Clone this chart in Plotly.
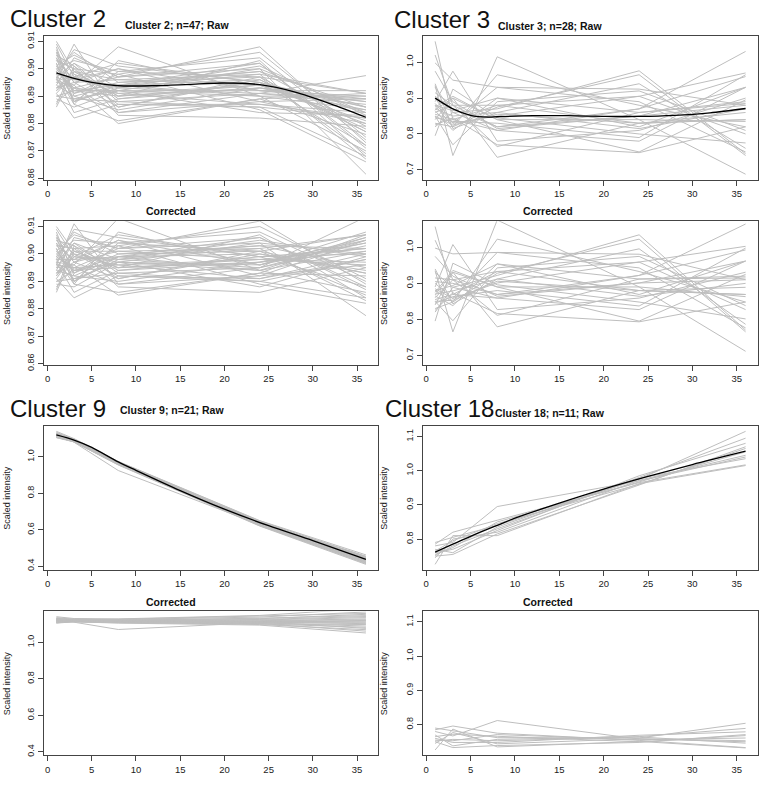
import plotly.graph_objects as go

# ---------------- data ----------------
TIME = [1, 3, 8, 24, 36]
XTICKS = [0, 5, 10, 15, 20, 25, 30, 35]

C2_RAW = [
    [0.909, 0.897, 0.893, 0.898, 0.891], [0.905, 0.901, 0.889, 0.895, 0.884],
    [0.902, 0.888, 0.894, 0.902, 0.872], [0.896, 0.909, 0.884, 0.891, 0.889],
    [0.893, 0.895, 0.900, 0.888, 0.880], [0.899, 0.892, 0.890, 0.903, 0.868],
    [0.886, 0.899, 0.896, 0.894, 0.886], [0.904, 0.887, 0.881, 0.889, 0.876],
    [0.900, 0.903, 0.899, 0.897, 0.891], [0.891, 0.882, 0.887, 0.886, 0.882],
    [0.897, 0.894, 0.908, 0.890, 0.870], [0.906, 0.898, 0.892, 0.900, 0.8615],
    [0.894, 0.890, 0.885, 0.893, 0.888], [0.901, 0.905, 0.897, 0.908, 0.873],
    [0.888, 0.893, 0.891, 0.887, 0.884], [0.903, 0.896, 0.894, 0.899, 0.879],
    [0.898, 0.887, 0.903, 0.892, 0.892], [0.892, 0.900, 0.886, 0.896, 0.877],
    [0.907, 0.891, 0.898, 0.885, 0.866], [0.895, 0.902, 0.893, 0.901, 0.883],
    [0.890, 0.889, 0.888, 0.891, 0.8975], [0.899, 0.906, 0.895, 0.897, 0.869],
    [0.910, 0.899, 0.890, 0.894, 0.881], [0.896, 0.893, 0.884, 0.888, 0.889],
    [0.902, 0.888, 0.899, 0.904, 0.874], [0.893, 0.897, 0.902, 0.895, 0.886],
    [0.887, 0.901, 0.883, 0.882, 0.879], [0.905, 0.895, 0.896, 0.898, 0.867],
    [0.897, 0.884, 0.889, 0.893, 0.885], [0.900, 0.892, 0.892, 0.890, 0.890],
    [0.894, 0.904, 0.897, 0.902, 0.871], [0.891, 0.898, 0.887, 0.887, 0.882],
    [0.908, 0.890, 0.894, 0.896, 0.878], [0.898, 0.896, 0.900, 0.892, 0.888],
    [0.889, 0.886, 0.892, 0.884, 0.883], [0.903, 0.900, 0.898, 0.906, 0.875],
    [0.895, 0.894, 0.880, 0.889, 0.891], [0.901, 0.891, 0.895, 0.899, 0.886],
    [0.892, 0.897, 0.891, 0.894, 0.880], [0.906, 0.888, 0.893, 0.891, 0.887],
    [0.897, 0.902, 0.888, 0.886, 0.868], [0.899, 0.893, 0.897, 0.900, 0.884],
    [0.893, 0.899, 0.890, 0.893, 0.889], [0.904, 0.895, 0.886, 0.897, 0.877],
    [0.890, 0.892, 0.894, 0.890, 0.885], [0.898, 0.907, 0.901, 0.895, 0.872],
    [0.896, 0.889, 0.892, 0.892, 0.890],
]
C2_COR = [
    [0.909, 0.899, 0.898, 0.902, 0.907], [0.905, 0.903, 0.894, 0.899, 0.900],
    [0.902, 0.890, 0.899, 0.906, 0.888], [0.896, 0.911, 0.889, 0.895, 0.905],
    [0.893, 0.897, 0.905, 0.892, 0.896], [0.899, 0.894, 0.895, 0.907, 0.884],
    [0.886, 0.901, 0.901, 0.898, 0.902], [0.904, 0.889, 0.886, 0.893, 0.892],
    [0.900, 0.905, 0.904, 0.901, 0.907], [0.891, 0.884, 0.892, 0.890, 0.898],
    [0.897, 0.896, 0.913, 0.894, 0.886], [0.906, 0.900, 0.897, 0.904, 0.8775],
    [0.894, 0.892, 0.890, 0.897, 0.904], [0.901, 0.907, 0.902, 0.912, 0.889],
    [0.888, 0.895, 0.896, 0.891, 0.900], [0.903, 0.898, 0.899, 0.903, 0.895],
    [0.898, 0.889, 0.908, 0.896, 0.908], [0.892, 0.902, 0.891, 0.900, 0.893],
    [0.907, 0.893, 0.903, 0.889, 0.882], [0.895, 0.904, 0.898, 0.905, 0.899],
    [0.890, 0.891, 0.893, 0.895, 0.9135], [0.899, 0.908, 0.900, 0.901, 0.885],
    [0.910, 0.901, 0.895, 0.898, 0.897], [0.896, 0.895, 0.889, 0.892, 0.905],
    [0.902, 0.890, 0.904, 0.908, 0.890], [0.893, 0.899, 0.907, 0.899, 0.902],
    [0.887, 0.903, 0.888, 0.886, 0.895], [0.905, 0.897, 0.901, 0.902, 0.883],
    [0.897, 0.886, 0.894, 0.897, 0.901], [0.900, 0.894, 0.897, 0.894, 0.906],
    [0.894, 0.906, 0.902, 0.906, 0.887], [0.891, 0.900, 0.892, 0.891, 0.898],
    [0.908, 0.892, 0.899, 0.900, 0.894], [0.898, 0.898, 0.905, 0.896, 0.904],
    [0.889, 0.888, 0.897, 0.888, 0.899], [0.903, 0.902, 0.903, 0.910, 0.891],
    [0.895, 0.896, 0.885, 0.893, 0.907], [0.901, 0.893, 0.900, 0.903, 0.902],
    [0.892, 0.899, 0.896, 0.898, 0.896], [0.906, 0.890, 0.898, 0.895, 0.903],
    [0.897, 0.904, 0.893, 0.890, 0.884], [0.899, 0.895, 0.902, 0.904, 0.900],
    [0.893, 0.901, 0.895, 0.897, 0.905], [0.904, 0.897, 0.891, 0.901, 0.893],
    [0.890, 0.894, 0.899, 0.894, 0.901], [0.898, 0.909, 0.906, 0.899, 0.888],
    [0.896, 0.891, 0.897, 0.896, 0.906],
]
C2_TREND_X = [1, 3, 5, 8, 12, 16, 20, 24, 28, 32, 36]
C2_TREND_Y = [0.8985, 0.8965, 0.8950, 0.8938, 0.8938, 0.8943, 0.8948, 0.8942, 0.8915, 0.8872, 0.8823]

C3_RAW = [
    [1.058, 0.840, 0.880, 0.830, 0.860], [1.020, 0.880, 0.820, 0.870, 0.960],
    [0.998, 0.950, 0.930, 0.925, 0.880], [0.975, 0.890, 0.815, 0.850, 0.930],
    [0.935, 0.740, 1.015, 0.840, 0.835], [0.930, 0.860, 0.870, 0.976, 0.745],
    [0.900, 0.830, 0.850, 0.905, 0.970], [0.890, 0.975, 0.780, 0.810, 0.900],
    [0.880, 0.820, 0.965, 0.880, 0.820], [0.875, 0.905, 0.840, 0.750, 0.895],
    [0.870, 0.850, 0.860, 0.940, 0.760], [0.865, 0.810, 0.900, 0.820, 0.930],
    [0.860, 0.880, 0.765, 0.860, 0.885], [0.850, 0.770, 0.890, 0.920, 0.810],
    [0.845, 0.835, 0.830, 0.790, 0.965], [0.840, 0.900, 0.735, 0.830, 0.840],
    [0.830, 0.820, 0.875, 0.965, 0.740], [0.820, 0.860, 0.810, 0.870, 1.030],
    [0.795, 0.925, 0.845, 0.800, 0.775], [0.905, 0.870, 0.820, 0.850, 0.880],
    [0.885, 0.830, 0.930, 0.890, 0.750], [0.940, 0.815, 0.860, 0.815, 0.870],
    [0.825, 0.845, 0.770, 0.748, 0.820], [0.915, 0.880, 0.880, 0.905, 0.800],
    [0.868, 0.900, 0.840, 0.840, 0.688], [0.855, 0.840, 0.810, 0.780, 0.930],
    [0.880, 0.865, 0.900, 0.860, 0.890], [0.850, 0.825, 0.855, 0.830, 0.840],
]
C3_COR = [
    [1.058, 0.869, 0.933, 0.880, 0.889], [1.020, 0.910, 0.869, 0.922, 0.993],
    [0.998, 0.982, 0.986, 0.981, 0.910], [0.975, 0.920, 0.864, 0.901, 0.962],
    [0.935, 0.765, 1.076, 0.890, 0.863], [0.930, 0.889, 0.922, 1.035, 0.770],
    [0.900, 0.858, 0.901, 0.959, 1.003], [0.890, 1.008, 0.827, 0.859, 0.931],
    [0.880, 0.848, 1.023, 0.933, 0.848], [0.875, 0.936, 0.890, 0.795, 0.925],
    [0.870, 0.879, 0.912, 0.996, 0.786], [0.865, 0.838, 0.954, 0.869, 0.962],
    [0.860, 0.910, 0.811, 0.912, 0.915], [0.850, 0.796, 0.943, 0.975, 0.838],
    [0.845, 0.863, 0.880, 0.837, 0.998], [0.840, 0.931, 0.779, 0.880, 0.869],
    [0.830, 0.848, 0.928, 1.023, 0.765], [0.820, 0.889, 0.859, 0.922, 1.065],
    [0.795, 0.956, 0.896, 0.848, 0.801], [0.905, 0.900, 0.869, 0.901, 0.910],
    [0.885, 0.858, 0.986, 0.943, 0.776], [0.940, 0.843, 0.912, 0.864, 0.900],
    [0.825, 0.874, 0.816, 0.793, 0.848], [0.915, 0.910, 0.933, 0.959, 0.827],
    [0.868, 0.931, 0.890, 0.890, 0.711], [0.855, 0.869, 0.859, 0.827, 0.962],
    [0.880, 0.894, 0.954, 0.912, 0.920], [0.850, 0.853, 0.906, 0.880, 0.869],
]
C3_TREND_X = [1, 3, 5, 7, 8, 12, 16, 20, 24, 28, 32, 36]
C3_TREND_Y = [0.900, 0.870, 0.852, 0.847, 0.848, 0.851, 0.851, 0.849, 0.849, 0.852, 0.859, 0.871]

C9_RAW = [
    [1.140, 1.100, 0.975, 0.650, 0.462], [1.135, 1.095, 0.972, 0.645, 0.455],
    [1.130, 1.098, 0.970, 0.640, 0.450], [1.128, 1.092, 0.968, 0.642, 0.447],
    [1.125, 1.090, 0.966, 0.638, 0.445], [1.122, 1.093, 0.970, 0.636, 0.443],
    [1.120, 1.088, 0.964, 0.634, 0.440], [1.118, 1.090, 0.967, 0.633, 0.438],
    [1.116, 1.086, 0.962, 0.630, 0.436], [1.114, 1.089, 0.965, 0.632, 0.434],
    [1.112, 1.084, 0.960, 0.628, 0.432], [1.110, 1.087, 0.963, 0.629, 0.430],
    [1.108, 1.083, 0.958, 0.626, 0.428], [1.106, 1.085, 0.961, 0.627, 0.425],
    [1.105, 1.082, 0.957, 0.624, 0.422], [1.124, 1.091, 0.969, 0.631, 0.420],
    [1.119, 1.085, 0.959, 0.622, 0.417], [1.113, 1.088, 0.962, 0.625, 0.414],
    [1.130, 1.080, 0.925, 0.628, 0.437], [1.109, 1.082, 0.955, 0.620, 0.410],
    [1.126, 1.094, 0.973, 0.648, 0.452],
]
C9_COR = [
    [1.140, 1.130, 1.128, 1.147, 1.184], [1.135, 1.125, 1.125, 1.138, 1.166],
    [1.130, 1.128, 1.122, 1.129, 1.153], [1.128, 1.122, 1.120, 1.132, 1.146],
    [1.125, 1.120, 1.118, 1.125, 1.141], [1.122, 1.123, 1.122, 1.122, 1.135],
    [1.120, 1.118, 1.115, 1.118, 1.128], [1.118, 1.120, 1.119, 1.117, 1.123],
    [1.116, 1.116, 1.113, 1.111, 1.117], [1.114, 1.119, 1.117, 1.115, 1.112],
    [1.112, 1.114, 1.111, 1.108, 1.107], [1.110, 1.117, 1.114, 1.110, 1.102],
    [1.108, 1.113, 1.108, 1.104, 1.097], [1.106, 1.115, 1.112, 1.106, 1.089],
    [1.105, 1.112, 1.107, 1.101, 1.082], [1.124, 1.121, 1.121, 1.113, 1.076],
    [1.119, 1.115, 1.110, 1.097, 1.069], [1.113, 1.118, 1.113, 1.103, 1.061],
    [1.130, 1.110, 1.070, 1.108, 1.120], [1.109, 1.112, 1.105, 1.094, 1.051],
    [1.126, 1.124, 1.126, 1.143, 1.158],
]
C9_TREND_X = [1, 3, 5, 8, 10, 15, 20, 25, 30, 36]
C9_TREND_Y = [1.120, 1.092, 1.052, 0.972, 0.926, 0.815, 0.713, 0.622, 0.540, 0.437]

C18_RAW = [
    [0.790, 0.805, 0.840, 0.975, 1.115], [0.785, 0.820, 0.855, 0.965, 1.017],
    [0.780, 0.790, 0.895, 0.970, 1.040], [0.770, 0.760, 0.835, 0.980, 1.095],
    [0.765, 0.795, 0.845, 0.960, 1.065], [0.760, 0.770, 0.825, 0.985, 1.080],
    [0.755, 0.775, 0.850, 0.968, 1.055], [0.752, 0.780, 0.830, 0.978, 1.035],
    [0.750, 0.755, 0.815, 0.958, 1.070], [0.745, 0.800, 0.820, 0.972, 1.045],
    [0.726, 0.810, 0.810, 0.962, 1.015],
]
C18_COR = [
    [0.790, 0.782, 0.762, 0.761, 0.804], [0.785, 0.796, 0.775, 0.754, 0.733],
    [0.780, 0.767, 0.812, 0.758, 0.750], [0.770, 0.738, 0.757, 0.765, 0.789],
    [0.765, 0.772, 0.766, 0.750, 0.768], [0.760, 0.748, 0.748, 0.769, 0.779],
    [0.755, 0.753, 0.771, 0.756, 0.761], [0.752, 0.757, 0.753, 0.764, 0.746],
    [0.750, 0.733, 0.739, 0.748, 0.771], [0.745, 0.777, 0.744, 0.759, 0.753],
    [0.726, 0.787, 0.735, 0.751, 0.732],
]
C18_TREND_X = [1, 3, 5, 8, 10, 15, 20, 25, 30, 36]
C18_TREND_Y = [0.762, 0.785, 0.808, 0.840, 0.861, 0.905, 0.946, 0.983, 1.018, 1.057]

C2_YTICKS = [0.86, 0.87, 0.88, 0.89, 0.90, 0.91]
C2_YLABELS = ["0.86", "0.87", "0.88", "0.89", "0.90", "0.91"]
C3_YTICKS = [0.7, 0.8, 0.9, 1.0]
C3_YLABELS = ["0.7", "0.8", "0.9", "1.0"]
C9_YTICKS = [0.4, 0.6, 0.8, 1.0]
C9_YLABELS = ["0.4", "0.6", "0.8", "1.0"]
C18_YTICKS = [0.8, 0.9, 1.0, 1.1]
C18_YLABELS = ["0.8", "0.9", "1.0", "1.1"]

# ---------------- layout helpers ----------------
W, H = 760, 785
FONT = "Liberation Sans, Arial, Helvetica, sans-serif"
GREY = "#bebebe"
AXC = "#444444"


def fx(px):
    return px / W


def fy(px):
    return 1 - px / H


COLS = [(44.0, 378.3), (422.7, 758.0)]
ROWS = [(31.5, 177.0), (219.3, 365.0), (427.0, 572.7), (615.0, 761.0)]

clusters = [
    dict(label="Cluster 2", title="Cluster 2; n=47; Raw", raw=C2_RAW, cor=C2_COR,
         tx=C2_TREND_X, ty=C2_TREND_Y, yr=[0.85956, 0.91194], yt=C2_YTICKS, yl=C2_YLABELS,
         col=0, r=0, big=(8, 13.5), sub=(123, 20.7)),
    dict(label="Cluster 3", title="Cluster 3; n=28; Raw", raw=C3_RAW, cor=C3_COR,
         tx=C3_TREND_X, ty=C3_TREND_Y, yr=[0.6732, 1.0728], yt=C3_YTICKS, yl=C3_YLABELS,
         col=1, r=0, big=(391.5, 14.5), sub=(496, 21.5)),
    dict(label="Cluster 9", title="Cluster 9; n=21; Raw", raw=C9_RAW, cor=C9_COR,
         tx=C9_TREND_X, ty=C9_TREND_Y, yr=[0.3808, 1.1692], yt=C9_YTICKS, yl=C9_YLABELS,
         col=0, r=2, big=(8, 409.5), sub=(118, 410.7)),
    dict(label="Cluster 18", title="Cluster 18; n=11; Raw", raw=C18_RAW, cor=C18_COR,
         tx=C18_TREND_X, ty=C18_TREND_Y, yr=[0.7104, 1.1306], yt=C18_YTICKS, yl=C18_YLABELS,
         col=1, r=2, big=(383, 409.5), sub=(493, 414.0)),
]

fig = go.Figure()
layout = {}
annotations = []
k = 0
for c in clusters:
    x0, x1 = COLS[c["col"]]
    for part in ("raw", "cor"):
        k += 1
        xa = "x" if k == 1 else f"x{k}"
        ya = "y" if k == 1 else f"y{k}"
        xname = "xaxis" if k == 1 else f"xaxis{k}"
        yname = "yaxis" if k == 1 else f"yaxis{k}"
        top, bot = ROWS[c["r"] + (0 if part == "raw" else 1)]
        for series in c[part]:
            fig.add_trace(go.Scatter(x=TIME, y=series, mode="lines", xaxis=xa, yaxis=ya,
                                     line=dict(color=GREY, width=1), hoverinfo="skip",
                                     showlegend=False))
        if part == "raw":
            fig.add_trace(go.Scatter(x=c["tx"], y=c["ty"], mode="lines", xaxis=xa, yaxis=ya,
                                     line=dict(color="black", width=1.3, shape="spline",
                                               smoothing=0.8),
                                     hoverinfo="skip", showlegend=False))
        layout[xname] = dict(domain=[fx(x0), fx(x1)], anchor=ya, range=[-0.4, 37.4],
                             tickvals=XTICKS, ticks="outside", ticklen=5, tickwidth=1,
                             tickcolor=AXC, showline=True, mirror=True, linecolor=AXC,
                             linewidth=1, showgrid=False, zeroline=False,
                             tickfont=dict(family=FONT, size=9.5, color="#222"))
        layout[yname] = dict(domain=[fy(bot), fy(top)], anchor=xa, range=c["yr"],
                             tickvals=c["yt"], ticktext=c["yl"], tickangle=-90,
                             ticks="outside", ticklen=5, tickwidth=1, tickcolor=AXC,
                             showline=True, mirror=True, linecolor=AXC, linewidth=1,
                             showgrid=False, zeroline=False,
                             tickfont=dict(family=FONT, size=9, color="#222"))
        # y axis title
        annotations.append(dict(text="Scaled intensity", xref="paper", yref="paper",
                                x=fx(7 if c["col"] == 0 else 384), y=fy((top + bot) / 2),
                                xanchor="center", yanchor="middle", textangle=-90,
                                showarrow=False, font=dict(family=FONT, size=9, color="#222")))
        if part == "cor":
            cx = 171 if c["col"] == 0 else 548
            annotations.append(dict(text="<b>Corrected</b>", xref="paper", yref="paper",
                                    x=fx(cx), y=fy(top - 10), xanchor="center",
                                    yanchor="middle", showarrow=False,
                                    font=dict(family=FONT, size=10.5, color="#111")))
    annotations.append(dict(text=c["label"], xref="paper", yref="paper",
                            x=fx(c["big"][0]), y=fy(c["big"][1]), xanchor="left",
                            yanchor="middle", showarrow=False,
                            font=dict(family=FONT, size=24, color="#111")))
    annotations.append(dict(text="<b>" + c["title"] + "</b>", xref="paper", yref="paper",
                            x=fx(c["sub"][0]), y=fy(c["sub"][1]), xanchor="left",
                            yanchor="middle", showarrow=False,
                            font=dict(family=FONT, size=10.5, color="#111")))

fig.update_layout(**layout)
fig.update_layout(width=W, height=H, margin=dict(l=0, r=0, t=0, b=0),
                  paper_bgcolor="white", plot_bgcolor="white", hovermode=False,
                  showlegend=False, annotations=annotations)
fig.write_html("out.html", config={"displayModeBar": False},
               post_script="document.body.style.margin='0';document.body.style.overflow='hidden';")
